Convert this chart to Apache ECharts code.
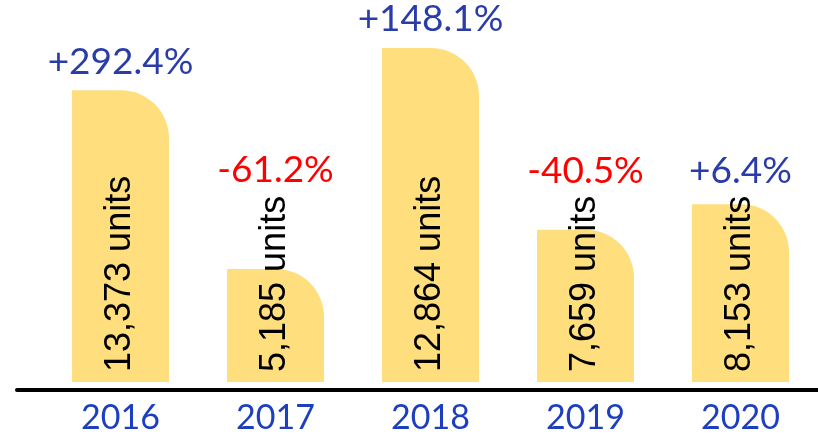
<!DOCTYPE html>
<html>
<head>
<meta charset="utf-8">
<script src="https://cdn.jsdelivr.net/npm/echarts@6/dist/echarts.min.js"></script>
<style>
  html, body { margin: 0; padding: 0; background: #fff; }
  #chart { width: 818px; height: 435px; }
</style>
</head>
<body>
<div id="chart"></div>
<script>
// data
var categories = ['2016', '2017', '2018', '2019', '2020'];
var barHeights = [13373, 5185, 15310, 6980, 8153];   // drawn heights
var unitValues = [13373, 5185, 12864, 7659, 8153];   // values written in the bars
var changes = ['+292.4%', '-61.2%', '+148.1%', '-40.5%', '+6.4%'];

var yMax = 16000;
var gridTop = 33, gridBottom = 45;
var unitFont = '36px "Liberation Sans"';
var unitDistance = 10;

// how far the rotated unit text sticks out above the bar
var ctx = document.createElement('canvas').getContext('2d');
ctx.font = unitFont;
var plotH = 435 - gridTop - gridBottom;

function unitText(i) {
    return unitValues[i].toLocaleString('en-US') + ' units';
}

var changeData = barHeights.map(function (v, i) {
    var barPx = v / yMax * plotH;
    var textPx = unitDistance + ctx.measureText(unitText(i)).width;
    var extra = Math.max(0, textPx - barPx);
    return {
        value: v,
        label: {
            offset: [0, -extra],
            color: changes[i].charAt(0) === '-' ? '#ff0000' : '#2a3ca8'
        }
    };
});

var option = {
    backgroundColor: '#fff',
    animation: false,
    grid: [
        { left: 43, width: 785, top: gridTop, bottom: gridBottom },
        { left: 17, right: 0, top: gridTop, bottom: gridBottom }
    ],
    xAxis: [
        {
            type: 'category',
            data: categories,
            axisLine: { show: false },
            axisTick: { show: false },
            axisLabel: {
                color: '#1d3ebf',
                fontFamily: 'Lato',
                fontSize: 34,
                margin: 19
            }
        },
        {
            type: 'value',
            gridIndex: 1,
            min: 0,
            max: 1,
            axisLine: { show: true, onZero: false, lineStyle: { color: '#000', width: 4 } },
            axisTick: { show: false },
            axisLabel: { show: false },
            splitLine: { show: false }
        }
    ],
    yAxis: [
        { type: 'value', min: 0, max: yMax, show: false },
        { type: 'value', gridIndex: 1, min: 0, max: 1, show: false }
    ],
    series: [
        {
            type: 'bar',
            data: barHeights,
            barWidth: 97,
            itemStyle: { color: '#ffde7e', borderRadius: [0, 48, 0, 0] },
            label: {
                show: true,
                position: 'insideBottom',
                rotate: 90,
                align: 'left',
                verticalAlign: 'middle',
                distance: unitDistance,
                color: '#000',
                fontFamily: 'Liberation Sans',
                fontSize: 36,
                formatter: function (p) { return unitText(p.dataIndex); }
            }
        },
        {
            type: 'scatter',
            data: changeData,
            symbolSize: 0,
            silent: true,
            itemStyle: { opacity: 1 },
            label: {
                show: true,
                position: 'top',
                distance: 10,
                fontFamily: 'Lato',
                fontSize: 37,
                opacity: 1,
                formatter: function (p) { return changes[p.dataIndex]; }
            }
        }
    ]
};

var myChart = echarts.init(document.getElementById('chart'));
myChart.setOption(option);
</script>
</body>
</html>
